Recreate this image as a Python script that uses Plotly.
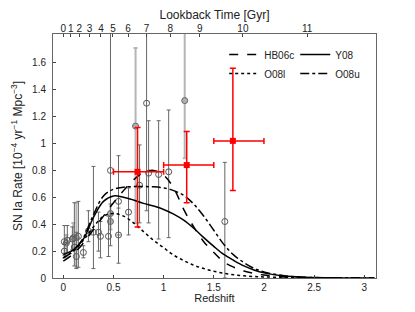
import plotly.graph_objects as go

# ---------------- data ----------------
# model curves (redshift, SN Ia rate in 1e-4 /yr /Mpc^3)
z_model = [0, 0.1, 0.2, 0.3, 0.4, 0.5, 0.6, 0.7, 0.8, 0.9, 1.0, 1.1, 1.2, 1.3, 1.4,
           1.5, 1.6, 1.7, 1.8, 1.9, 2.0, 2.2, 2.4, 2.6, 2.8, 3.0, 3.1]
hb06c = [0.125, 0.18, 0.26, 0.36, 0.46, 0.56, 0.65, 0.73, 0.785, 0.80, 0.765, 0.67, 0.51, 0.38, 0.27,
         0.19, 0.12, 0.08, 0.052, 0.034, 0.022, 0.008, 0.003, 0.001, 0.0005, 0.0002, 0.0001]
y08 = [0.175, 0.21, 0.29, 0.45, 0.57, 0.61, 0.60, 0.58, 0.555, 0.535, 0.51, 0.475, 0.43, 0.37, 0.30,
       0.235, 0.175, 0.13, 0.09, 0.06, 0.038, 0.014, 0.005, 0.002, 0.0008, 0.0003, 0.0001]
o08l = [0.15, 0.20, 0.28, 0.38, 0.46, 0.48, 0.46, 0.41, 0.345, 0.28, 0.225, 0.17, 0.13, 0.095, 0.07,
        0.05, 0.035, 0.024, 0.016, 0.011, 0.008, 0.004, 0.0015, 0.0007, 0.0003, 0.0001, 0.0001]
o08u = [0.15, 0.20, 0.30, 0.47, 0.61, 0.66, 0.675, 0.68, 0.68, 0.678, 0.67, 0.65, 0.615, 0.55, 0.46,
        0.355, 0.25, 0.17, 0.115, 0.072, 0.045, 0.017, 0.006, 0.002, 0.0008, 0.0003, 0.0001]

# literature measurements (dark grey error bars)
lit_z = [0.01, 0.04, 0.01, 0.09, 0.11, 0.13, 0.15, 0.20, 0.25, 0.30, 0.35, 0.37, 0.45, 0.47,
         0.55, 0.55, 0.65, 0.76, 0.83, 0.85, 0.95, 1.05, 1.61]
lit_r = [0.27, 0.28, 0.20, 0.29, 0.23, 0.16, 0.31, 0.19, 0.35, 0.34, 0.34, 0.31, 0.31, 0.80,
         0.57, 0.32, 0.49, 0.69, 1.30, 0.78, 0.77, 0.79, 0.42]
lit_up = [0.12, 0.11, 0.05, 0.09, 0.33, 0.18, 0.26, 0.05, 0.15, 0.49, 0.15, 0.11, 0.15, 1.20,
          0.34, 0.20, 0.18, 0.30, 0.80, 0.39, 0.40, 0.46, 0.44]
lit_dn = [0.10, 0.09, 0.05, 0.08, 0.14, 0.09, 0.23, 0.04, 0.08, 0.27, 0.14, 0.16, 0.15, 0.56,
          0.25, 0.21, 0.17, 0.28, 0.80, 0.37, 0.48, 0.49, 0.42]

# literature measurements (light grey error bars)
lit2_z = [0.03, 0.10, 0.13, 0.47, 0.47, 0.72, 1.21]
lit2_r = [0.26, 0.30, 0.30, 0.42, 0.48, 1.13, 1.32]
lit2_up = [0.06, 0.11, 0.26, 0.06, 0.07, 0.58, 0.70]
lit2_dn = [0.10, 0.08, 0.22, 0.06, 0.07, 0.72, 0.43]

# this work (red)
new_z = [0.74, 1.23, 1.69]
new_r = [0.79, 0.84, 1.02]
new_up = [0.33, 0.25, 0.54]
new_dn = [0.41, 0.28, 0.37]
new_zlo = [0.24, 0.23, 0.19]
new_zhi = [0.26, 0.27, 0.31]

# lookback time axis (Gyr) and corresponding redshift positions
lb_labels = ["0", "1", "2", "3", "4", "5", "6", "7", "8", "9", "10", "11"]
lb_z = [0.0, 0.075, 0.16, 0.26, 0.375, 0.495, 0.645, 0.83, 1.065, 1.36, 1.79, 2.43]

# ---------------- figure ----------------
FONT = "Liberation Sans, Arial, sans-serif"
fig = go.Figure()

fig.add_trace(go.Scatter(
    x=lit2_z, y=lit2_r, mode="markers", showlegend=False,
    marker=dict(symbol="circle", size=6, color="#b0b0b0", line=dict(color="#666", width=1)),
    error_y=dict(type="data", symmetric=False, array=lit2_up, arrayminus=lit2_dn,
                 color="#b5b5b5", thickness=2, width=2)))

fig.add_trace(go.Scatter(
    x=lit_z, y=lit_r, mode="markers", showlegend=False,
    marker=dict(symbol="circle-open", size=6, color="#555", line=dict(width=1)),
    error_y=dict(type="data", symmetric=False, array=lit_up, arrayminus=lit_dn,
                 color="#666", thickness=1, width=2)))

styles = [("HB06c", hb06c, "dash", "legend"),
          ("O08l", o08l, "dot", "legend"),
          ("Y08", y08, "solid", "legend2"),
          ("O08u", o08u, "dashdot", "legend2")]
for name, vals, dash, leg in styles:
    fig.add_trace(go.Scatter(
        x=z_model, y=vals, mode="lines", name=name, legend=leg, line_shape="spline",
        line=dict(color="black", width=1.5, dash=dash)))

fig.add_trace(go.Scatter(
    x=new_z, y=new_r, mode="markers", showlegend=False,
    marker=dict(symbol="square", size=6, color="red"),
    error_y=dict(type="data", symmetric=False, array=new_up, arrayminus=new_dn,
                 color="red", thickness=1.5, width=3),
    error_x=dict(type="data", symmetric=False, array=new_zhi, arrayminus=new_zlo,
                 color="red", thickness=1.5, width=3)))

# invisible trace to activate top axis
fig.add_trace(go.Scatter(x=[0], y=[0], xaxis="x2", mode="markers",
                         marker=dict(opacity=0), showlegend=False, hoverinfo="skip"))

axis_common = dict(showgrid=False, zeroline=False, ticks="inside", ticklen=3,
                   tickcolor="#444", linecolor="#666", linewidth=1, showline=True,
                   automargin=False, tickangle=0,
                   tickfont=dict(family=FONT, size=10, color="#222"))

# page has an 8px body margin, so the figure is sized/offset to compensate
fig.update_layout(
    width=399, height=296,
    margin=dict(l=45, r=31, t=26, b=26, autoexpand=False),
    paper_bgcolor="white", plot_bgcolor="white",
    font=dict(family=FONT, size=10, color="#222"),
    xaxis=dict(range=[-0.103, 3.117], tickvals=[0, 0.5, 1, 1.5, 2, 2.5, 3],
               ticktext=["0", "0.5", "1", "1.5", "2", "2.5", "3"],
               title=dict(text="Redshift", font=dict(family=FONT, size=11), standoff=9),
               **axis_common),
    xaxis2=dict(range=[-0.103, 3.117], overlaying="x", side="top",
                tickvals=lb_z, ticktext=lb_labels, ticklabelstandoff=-3,
                title=dict(text="Lookback Time [Gyr]", font=dict(family=FONT, size=12), standoff=4),
                **axis_common),
    yaxis=dict(range=[0, 1.815], tickvals=[0, 0.2, 0.4, 0.6, 0.8, 1, 1.2, 1.4, 1.6],
               ticktext=["0", "0.2", "0.4", "0.6", "0.8", "1", "1.2", "1.4", "1.6"],
               title=dict(text="SN Ia Rate [10<sup>−4</sup> yr<sup>−1</sup> Mpc<sup>−3</sup>]",
                          font=dict(family=FONT, size=12), standoff=6),
               mirror=True, ticklabelstandoff=4, **axis_common),
    legend=dict(x=0.53, y=0.975, xanchor="left", yanchor="top", bgcolor="rgba(0,0,0,0)",
                font=dict(family=FONT, size=10), tracegroupgap=0),
    legend2=dict(x=0.75, y=0.975, xanchor="left", yanchor="top", bgcolor="rgba(0,0,0,0)",
                 font=dict(family=FONT, size=10), tracegroupgap=0),
)

fig.write_html("out.html")
